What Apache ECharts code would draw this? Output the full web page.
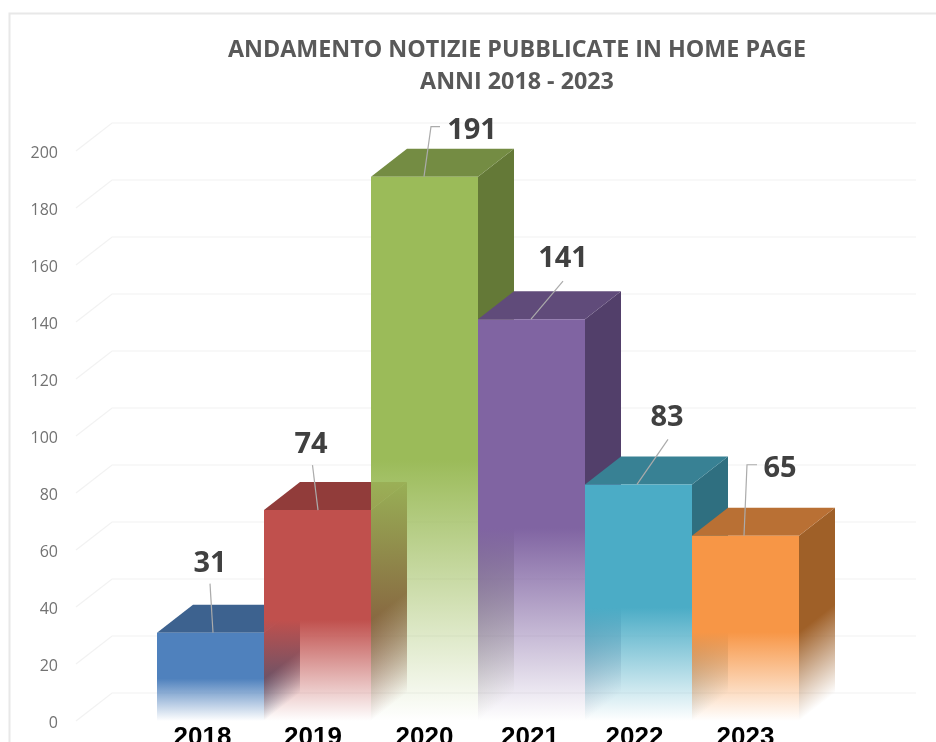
<!DOCTYPE html>
<html>
<head>
<meta charset="utf-8">
<style>html,body{margin:0;padding:0;background:#fff;overflow:hidden}#c{width:936px;height:742px;filter:blur(0.6px)}</style>
<script src="https://cdn.jsdelivr.net/npm/echarts@6/dist/echarts.min.js"></script>
</head>
<body>
<div id="c"></div>
<script>
var categories = ['2018','2019','2020','2021','2022','2023'];
var values = [31,74,191,141,83,65];
var tickValues = [0,20,40,60,80,100,120,140,160,180,200];
var titleText = 'ANDAMENTO NOTIZIE PUBBLICATE IN HOME PAGE\nANNI 2018 - 2023';
var frontColors = ['#4F81BD','#C0504D','#9BBB59','#8064A2','#4BACC6','#F79646'];
var topColors   = ['#3D628F','#913C3A','#748C43','#604B7A','#388194','#B97034'];
var sideColors  = ['#355578','#7C3432','#647937','#523F6A','#2F6F80','#9F6028'];

// styling offsets relative to each bar's top-centre
var labelOffsets = [[-0.5,-69],[-6.5,-65.5],[47.5,-45.5],[31.5,-60.5],[28.5,-66.5],[34.5,-67]];
var leaderOffsets = [
  [[2.5,0],[-0.5,-49]],
  [[0.5,0],[-5,-45]],
  [[-0.5,0],[6.5,-50],[15.5,-50]],
  [[-0.5,0],[31.5,-38]],
  [[-1.5,0],[29.5,-45]],
  [[-1.5,0],[1.5,-71],[11.5,-71]]
];
var axisLabelShift = [16,9,0,3,8,0];

var DX = 36, DY = -28, FADE = 0.52;
var WALL_L = 76, WALL_R = 916;

function rgba(hex, a){
  var n = parseInt(hex.slice(1),16);
  return 'rgba('+(n>>16)+','+((n>>8)&255)+','+(n&255)+','+a+')';
}
function fadeStops(hex){
  return [{offset:0,color:rgba(hex,1)},{offset:1,color:rgba(hex,0)}];
}

var rich = {};
categories.forEach(function(c,i){
  rich['c'+i] = {fontFamily:'Liberation Sans',fontWeight:'bold',fontSize:26,color:'#000',padding:[0,axisLabelShift[i],0,0]};
});

function renderBar(params, api){
  var i = api.value(0), v = api.value(1);
  var top = api.coord([i,v]), base = api.coord([i,0]);
  var w = api.size([1,0])[0];
  var x0 = top[0]-w/2, x1 = top[0]+w/2, ty = top[1], by = base[1], h = by-ty;
  var startY = ty + h*FADE;
  var frontFill = new echarts.graphic.LinearGradient(0,startY,0,by,fadeStops(frontColors[i]),true);
  var k = (by-startY)*DX/(DX*DX+DY*DY);
  // gradient axis perpendicular to the skewed receding edge
  var sideFill = new echarts.graphic.LinearGradient(x1,startY,x1+(-DY)*k,startY+DX*k,fadeStops(sideColors[i]),true);
  var loff = labelOffsets[i];
  var leader = leaderOffsets[i].map(function(o){return [top[0]+o[0],ty+o[1]];});
  return {type:'group',children:[
    {type:'polygon',shape:{points:[[x1,ty],[x1+DX,ty+DY],[x1+DX,by+DY],[x1,by]]},style:{fill:sideFill}},
    {type:'polygon',shape:{points:[[x0,ty],[x1,ty],[x1+DX,ty+DY],[x0+DX,ty+DY]]},style:{fill:topColors[i]}},
    {type:'rect',shape:{x:x0,y:ty,width:w,height:h},style:{fill:frontFill}},
    {type:'polyline',shape:{points:leader},style:{fill:'none',stroke:'#ababab',lineWidth:1.2}},
    {type:'text',style:{text:String(v),x:top[0]+loff[0],y:ty+loff[1],fontFamily:'Open Sans',fontWeight:'bold',fontSize:29,fill:'#404040',
      align:'center',verticalAlign:'middle',textAlign:'center',textVerticalAlign:'middle'}}
  ]};
}
function renderWall(params, api){
  var y = api.coord([0,api.value(1)])[1];
  return {type:'polyline',shape:{points:[[WALL_L,y],[WALL_L+DX,y+DY],[WALL_R,y+DY]]},
    style:{fill:'none',stroke:'#f2f2f2',lineWidth:1.2}};
}

var chart = echarts.init(document.getElementById('c'),null,{renderer:'canvas'});
chart.setOption({
  animation:false,
  backgroundColor:'#fff',
  title:{text:titleText,left:512,top:29,textAlign:'center',
    textStyle:{fontFamily:'Open Sans',fontWeight:'bold',fontSize:23.3,lineHeight:32,color:'#595959'}},
  graphic:[{type:'rect',left:7,top:11,shape:{width:1000,height:800},
    style:{fill:'none',stroke:'#e8e8e8',lineWidth:2},silent:true,z:-1}],
  grid:{left:157,right:137,top:151,bottom:21,outerBoundsMode:'none'},
  xAxis:{type:'category',data:categories,axisLine:{show:false},axisTick:{show:false},
    axisLabel:{margin:4,interval:0,formatter:function(val,idx){return '{c'+idx+'|'+val+'}';},rich:rich}},
  yAxis:{type:'value',min:0,max:200,interval:20,splitLine:{show:false},axisLine:{show:false},axisTick:{show:false},
    axisLabel:{margin:99,formatter:function(val){return '{t|'+val+'}';},
      rich:{t:{color:'#727272',fontFamily:'Open Sans',fontSize:16,padding:[4,0,0,0]}}}},
  series:[
    {type:'custom',name:'griglia',z:1,clip:false,renderItem:renderWall,silent:true,
      encode:{x:0,y:1},data:tickValues.map(function(t){return [0,t];})},
    {type:'custom',name:'Notizie',z:2,clip:false,renderItem:renderBar,
      encode:{x:0,y:1},data:values.map(function(v,i){return [i,v];})}
  ]
});
</script>
</body>
</html>
